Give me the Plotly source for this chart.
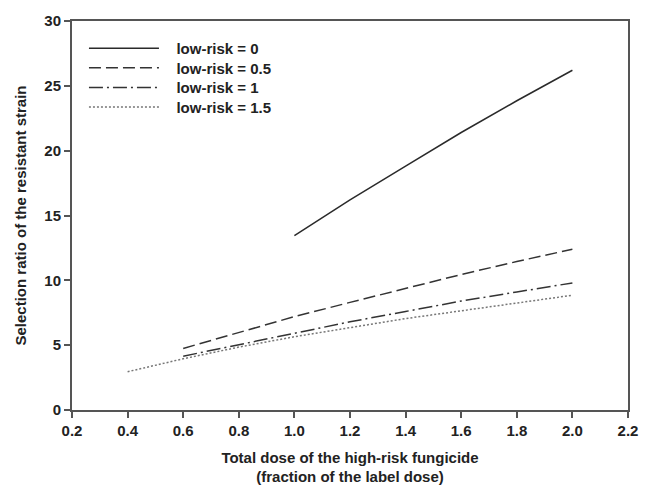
import plotly.graph_objects as go

x0 = [1.0, 1.2, 1.4, 1.6, 1.8, 2.0]
y0 = [13.45, 16.2, 18.8, 21.4, 23.85, 26.2]
x05 = [0.6, 0.8, 1.0, 1.2, 1.4, 1.6, 1.8, 2.0]
y05 = [4.75, 6.0, 7.2, 8.3, 9.4, 10.45, 11.45, 12.4]
x1 = [0.6, 0.8, 1.0, 1.2, 1.4, 1.6, 1.8, 2.0]
y1 = [4.15, 5.05, 5.9, 6.8, 7.6, 8.4, 9.1, 9.8]
x15 = [0.4, 0.6, 0.8, 1.0, 1.2, 1.4, 1.6, 1.8, 2.0]
y15 = [2.95, 3.95, 4.85, 5.65, 6.35, 7.05, 7.65, 8.25, 8.85]

series = [
    ("low-risk = 0", x0, y0, "solid", "#2a2a2a"),
    ("low-risk = 0.5", x05, y05, "12px,5px", "#333333"),
    ("low-risk = 1", x1, y1, "14px,4px,2px,4px", "#333333"),
    ("low-risk = 1.5", x15, y15, "2px,2px", "#777777"),
]
legend_rows = [0.9295, 0.879, 0.8287, 0.7783]

font_family = "Liberation Sans, Arial, sans-serif"
tfont = dict(family=font_family, size=15, color="#222222", weight="bold")

pad = "\u00a0\u00a0\u00a0"
fig = go.Figure()
legend_layout = {}
for i, (name, xs, ys, dash, col) in enumerate(series):
    key = "legend" if i == 0 else f"legend{i + 1}"
    fig.add_trace(go.Scatter(x=xs, y=ys, mode="lines", name=pad + name, legend=key,
                             line=dict(color=col, width=1.5, dash=dash)))
    legend_layout[key] = dict(x=0.0215, y=legend_rows[i], xanchor="left", yanchor="middle",
                              bgcolor="rgba(0,0,0,0)", font=tfont, itemwidth=70)

axis_common = dict(showline=True, linecolor="#555555", linewidth=2, mirror=True,
                   ticks="outside", ticklen=6, tickcolor="#555555", tickwidth=1.5,
                   showgrid=False, zeroline=False, tickfont=tfont)

fig.update_layout(
    width=650, height=495,
    paper_bgcolor="white", plot_bgcolor="white",
    margin=dict(l=72, r=12, t=19, b=79),
    font=dict(family=font_family, size=15, color="#222222"),
    xaxis=dict(range=[0.2, 2.2], tickvals=[0.2, 0.4, 0.6, 0.8, 1.0, 1.2, 1.4, 1.6, 1.8, 2.0, 2.2],
               ticktext=["0.2", "0.4", "0.6", "0.8", "1.0", "1.2", "1.4", "1.6", "1.8", "2.0", "2.2"],
               title=dict(text="Total dose of the high-risk fungicide<br>(fraction of the label dose)",
                          font=tfont, standoff=14),
               **axis_common),
    yaxis=dict(range=[0, 30], tickvals=[0, 5, 10, 15, 20, 25, 30],
               title=dict(text="Selection ratio of the resistant strain",
                          font=tfont, standoff=14),
               **axis_common),
    showlegend=True,
    **legend_layout,
)

fig.write_html("out.html")
